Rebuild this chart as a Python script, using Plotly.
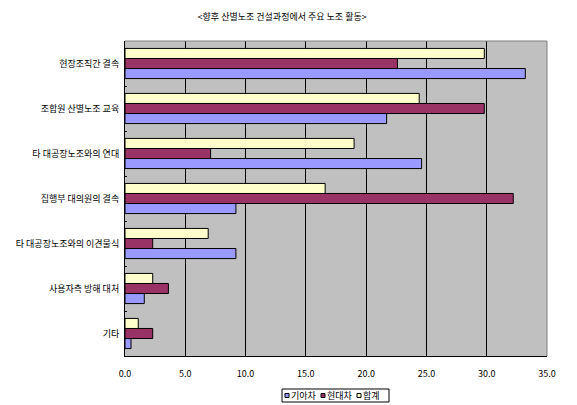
import plotly.graph_objects as go

categories = ["현장조직간 결속", "조합원 산별노조 교육", "타 대공장노조와의 연대",
              "집행부 대의원의 결속", "타 대공장노조와의 이견물식", "사용자측 방해 대처", "기타"]
kia = [33.2, 21.7, 24.6, 9.2, 9.2, 1.6, 0.5]
hyundai = [22.6, 29.8, 7.1, 32.2, 2.3, 3.6, 2.3]
total = [29.8, 24.4, 19.0, 16.6, 6.9, 2.3, 1.1]
series_names = ["기아차", "현대차", "합계"]
x_ticks = [0, 5, 10, 15, 20, 25, 30, 35]
title_text = "<향후 산별노조 건설과정에서 주요 노조 활동>"

FONT = "Noto Sans CJK KR"
colors = ["#9999FF", "#993366", "#FFFFCC"]

W, H = 577, 405
ML, MR, MT, MB = 125, 30, 41, 49
PW, PH = W - ML - MR, H - MT - MB


def px_x(p):
    return (p - ML) / PW


def px_y(p):
    return (H - MB - p) / PH


fig = go.Figure()
for name, vals, col in zip(series_names, [kia, hyundai, total], colors):
    fig.add_trace(go.Bar(
        y=categories, x=vals, name=name, orientation="h",
        marker=dict(color=col, line=dict(color="black", width=1)),
        showlegend=False,
    ))

shapes = [
    dict(type="line", xref="paper", yref="paper", x0=0, x1=1, y0=1, y1=1,
         line=dict(color="#808080", width=1), layer="above"),
    dict(type="line", xref="paper", yref="paper", x0=1, x1=1, y0=0, y1=1,
         line=dict(color="#808080", width=1), layer="above"),
    # legend box
    dict(type="rect", xref="paper", yref="paper",
         x0=px_x(282), x1=px_x(389), y0=px_y(389), y1=px_y(402),
         line=dict(color="black", width=1), fillcolor="white", layer="above"),
]
annotations = []
swatch_x = [285, 321, 357]
for name, col, sx in zip(series_names, colors, swatch_x):
    shapes.append(dict(type="rect", xref="paper", yref="paper",
                       x0=px_x(sx), x1=px_x(sx + 4), y0=px_y(393.5), y1=px_y(397.5),
                       line=dict(color="black", width=1), fillcolor=col, layer="above"))
    annotations.append(dict(text=name, xref="paper", yref="paper",
                            x=px_x(sx + 5), y=px_y(395.5), xanchor="left", yanchor="middle",
                            showarrow=False, borderpad=0,
                            font=dict(family=FONT, size=9, color="black")))

fig.update_layout(
    width=W, height=H,
    margin=dict(l=ML, r=MR, t=MT, b=MB, pad=0, autoexpand=False),
    paper_bgcolor="white", plot_bgcolor="#C0C0C0",
    barmode="group", bargap=0.33, bargroupgap=0,
    font=dict(family=FONT, size=9, color="black"),
    showlegend=False,
    title=dict(text=title_text, x=0.489, xanchor="center", y=0.958, yanchor="middle",
               font=dict(family=FONT, size=9, color="black")),
    xaxis=dict(range=[0, 35], tickvals=x_ticks, tickformat=".1f",
               showgrid=True, gridcolor="black", gridwidth=1,
               showline=True, linecolor="black", linewidth=1,
               ticks="outside", ticklen=9, tickcolor="rgba(0,0,0,0)",
               zeroline=False, fixedrange=True),
    yaxis=dict(categoryorder="array", categoryarray=categories[::-1],
               showgrid=False, showline=True, linecolor="black", linewidth=1,
               ticks="inside", tickson="boundaries", ticklen=2, tickcolor="black",
               zeroline=False, fixedrange=True, ticklabelstandoff=3),
    shapes=shapes,
    annotations=annotations,
)

fig.write_html("out.html")
